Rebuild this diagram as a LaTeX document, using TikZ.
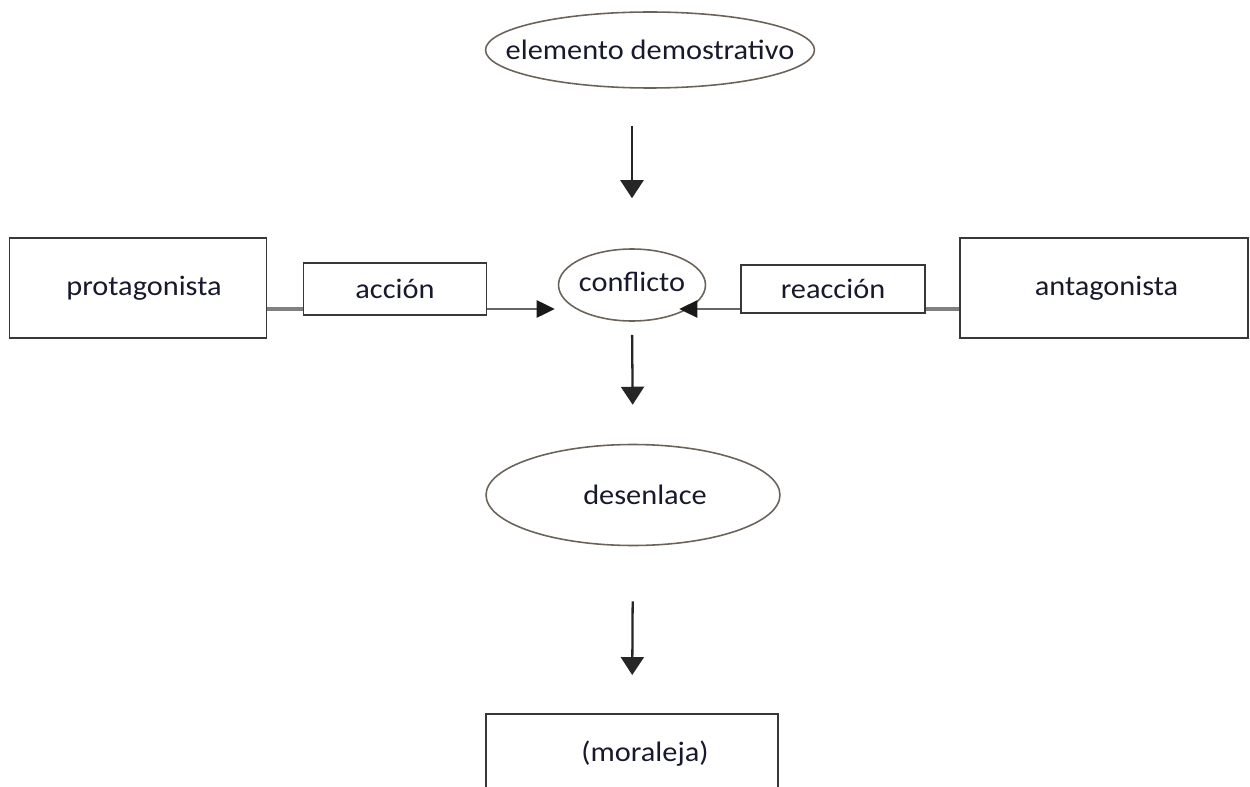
\documentclass[tikz,border=0pt]{standalone}
\usepackage{fontspec}
\setmainfont{Carlito}[FakeStretch=1.08]
\usetikzlibrary{arrows.meta,shapes.geometric}
\definecolor{ovalline}{rgb}{0.42,0.39,0.35}
\definecolor{boxline}{rgb}{0.22,0.22,0.22}
\definecolor{inktext}{rgb}{0.1,0.1,0.18}
\tikzset{
  >={Triangle[length=0.36cm,width=0.46cm]},
  box/.style={draw=boxline, line width=1.1pt, inner sep=0pt, text=inktext, font=\fontsize{16}{18}\selectfont},
  ovalbox/.style={draw=ovalline, ellipse, line width=0.9pt, inner sep=0pt, text=inktext, font=\fontsize{16}{18}\selectfont},
  arrow/.style={->, line width=1.3pt, black!85},
  sidearrow/.style={-{Triangle[length=0.36cm,width=0.34cm,color=black!90,fill=black!90]}, line width=1.5pt, black!60},
  link/.style={line width=1.8pt, black!50}
}
\begin{document}
\begin{tikzpicture}[x=0.02cm, y=-0.02cm]
  \useasboundingbox (0,0) rectangle (1250,787);

  % ovals
  \node[ovalbox, minimum width=6.58cm, minimum height=1.52cm] (elem) at (650,50) {\makebox[0pt]{elemento demostrativo}};
  \node[ovalbox, minimum width=2.94cm, minimum height=1.44cm] (conf) at (632,285) {\makebox[0pt]{\raisebox{0.12cm}{conflicto}}};
  \node[ovalbox, minimum width=5.88cm, minimum height=2.02cm] (desen) at (633,495) {\makebox[0pt]{\hspace*{0.48cm}\raisebox{-0.1cm}{desenlace}}};

  % boxes
  \node[box, minimum width=5.14cm, minimum height=2cm] (prot) at (138,288) {\hspace*{0.24cm}protagonista};
  \node[box, minimum width=3.66cm, minimum height=1.04cm] (accion) at (395,289) {acción};
  \node[box, minimum width=3.68cm, minimum height=0.96cm] (reac) at (833,289) {reacción};
  \node[box, minimum width=5.76cm, minimum height=2cm] (anta) at (1104,288) {\hspace*{0.1cm}antagonista};
  \node[box, minimum width=5.84cm, minimum height=1.6cm] (moral) at (632,754) {\hspace*{0.52cm}(moraleja)};

  \coordinate (hline) at (0,309);

  \draw[arrow, shorten <=0.74cm, shorten >=1cm] (elem.south -| conf.north) -- (conf.north);
  \draw[arrow, shorten <=0.26cm, shorten >=0.78cm] (conf.south) -- (desen.north);
  \draw[arrow, shorten <=1.1cm, shorten >=0.76cm] (desen.south) -- (moral.north);

  \draw[link] (prot.east |- hline) -- (accion.west |- hline);
  \draw[sidearrow, shorten >=0.06cm] (accion.east |- hline) -- (conf.west |- hline);
  \draw[link] (anta.west |- hline) -- (reac.east |- hline);
  \draw[sidearrow, shorten >=-0.54cm] (reac.west |- hline) -- (conf.east |- hline);
\end{tikzpicture}
\end{document}
